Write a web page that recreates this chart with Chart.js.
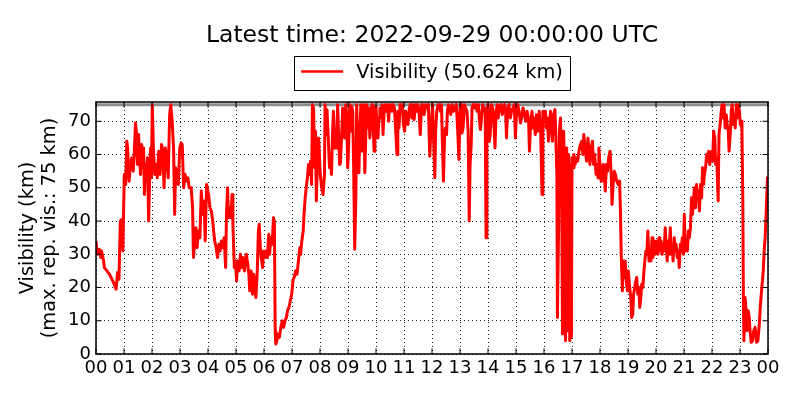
<!DOCTYPE html>
<html>
<head>
<meta charset="utf-8">
<script src="https://cdn.jsdelivr.net/npm/chart.js@4.4.1/dist/chart.umd.min.js"></script>
<style>
  html, body { margin: 0; padding: 0; background: #fff; }
  canvas { display: block; }
</style>
</head>
<body>
<canvas id="visChart" width="800" height="400"></canvas>
<script>
// Visibility readings, hours since 00 UTC in 4-hour blocks
const times00to04 = [
  0.00,0.05,0.12,0.17,0.20,0.27,0.30,0.39,0.48,0.57,
  0.65,0.72,0.77,0.82,0.87,0.92,0.96,1.01,1.06,1.10,
  1.13,1.18,1.23,1.28,1.33,1.37,1.41,1.45,1.48,1.52,
  1.55,1.59,1.63,1.66,1.70,1.73,1.77,1.81,1.84,1.88,
  1.92,1.95,1.98,2.01,2.05,2.10,2.14,2.19,2.24,2.29,
  2.34,2.39,2.43,2.48,2.53,2.58,2.63,2.67,2.72,2.77,
  2.81,2.84,2.89,2.94,2.99,3.04,3.08,3.13,3.18,3.23,
  3.28,3.33,3.40,3.45,3.48,3.52,3.57,3.61,3.66,3.71,
  3.76,3.81,3.86,3.90,3.95
];
const vis00to04 = [
  34,30,31.5,29,31,28,26,25,24,22.5,
  21,19.5,24.5,22.5,40,40.5,31,54,51,64,
  62,52,57,59,55,61,69.5,66,57,66,
  60,54,63,56,62,48,57,53,59,40,
  55,62,53,75,62,54,57,53,61,54,
  63,61,50,62,58,53,72,75,70,62,
  42,56,54,51,62,63.5,63,50,54,52,
  53,50,50,44,29,33,38,32,37,35,
  49,42,46,34,51
];

const times04to08 = [
  4.02,4.07,4.12,4.17,4.20,4.24,4.29,4.34,4.39,4.43,
  4.48,4.53,4.58,4.63,4.66,4.70,4.73,4.77,4.82,4.86,
  4.89,4.94,4.98,5.02,5.06,5.11,5.16,5.20,5.25,5.30,
  5.34,5.37,5.42,5.46,5.49,5.54,5.59,5.63,5.66,5.71,
  5.76,5.80,5.83,5.87,5.90,5.95,5.99,6.02,6.07,6.12,
  6.17,6.20,6.24,6.29,6.34,6.37,6.40,6.42,6.46,6.51,
  6.55,6.60,6.65,6.70,6.75,6.80,6.84,6.89,6.94,6.99,
  7.04,7.08,7.13,7.18,7.23,7.28,7.31,7.35,7.40,7.43,
  7.47,7.52,7.55,7.59,7.63,7.66,7.70,7.73,7.77,7.81,
  7.84,7.87,7.92,7.95
];
const vis04to08 = [
  48,44,43,40,37,34,32,29,33,31,
  34,32,35,26,42,50,41,44,41,48,
  39,26,28,22,28,25,30,26,29,25,
  28,30,27,24,19,25,18,24,21,17,
  25,37,39,32,29,26,31,29,31,29,
  36,30,35,33,41,40,7,3,4,6,
  5,8,10,8,10,11,13,14,16,18,
  22.5,23,25,24,28,32,30,34,37,42,
  47,51,53,57,54,58,51,75,74,56,
  67,46,61,65
];

const times08to12 = [
  8.01,8.06,8.11,8.16,8.18,8.22,8.25,8.30,8.34,8.37,
  8.41,8.45,8.48,8.52,8.55,8.59,8.63,8.66,8.70,8.73,
  8.77,8.81,8.84,8.88,8.92,8.95,8.99,9.02,9.06,9.10,
  9.13,9.17,9.20,9.24,9.28,9.31,9.35,9.39,9.42,9.46,
  9.49,9.53,9.57,9.60,9.64,9.67,9.71,9.75,9.78,9.82,
  9.86,9.89,9.93,9.96,10.00,10.04,10.07,10.11,10.14,10.18,
  10.22,10.25,10.29,10.33,10.37,10.41,10.45,10.48,10.52,10.57,
  10.61,10.66,10.71,10.75,10.78,10.82,10.86,10.90,10.94,10.98,
  11.02,11.06,11.11,11.14,11.19,11.23,11.28,11.31,11.36,11.41,
  11.45,11.48,11.53,11.58,11.63,11.67,11.72,11.77,11.82,11.87,
  11.92,11.96
];
const vis08to12 = [
  54,50,48,54,75,66,73.5,64,56,60,
  54,67,73,62,67,62,75,67,57,57.5,
  65,74,67,65,75,72,56,62,75,67,
  74.5,73,57,31.5,47,75,59,54.5,67,75,
  61,64,75,54.5,67,75,68,74,65,70,
  75,72,61,65,74.5,68,65,71,74,71.5,
  75,66,73,75,73,75,70,74.5,75,73,
  75,74,66,60,73,68,75,74,75,69,
  67,73,71,69,74,75,71,75,70.5,75,
  73,75,74,66,75,75,72,75,74,75,
  59.5,67
];

const times12to16 = [
  12.02,12.06,12.10,12.13,12.17,12.22,12.27,12.30,12.34,12.37,
  12.41,12.45,12.48,12.52,12.55,12.59,12.63,12.67,12.72,12.77,
  12.82,12.87,12.92,12.96,13.00,13.04,13.07,13.11,13.16,13.20,
  13.25,13.29,13.33,13.36,13.40,13.43,13.47,13.52,13.57,13.61,
  13.66,13.70,13.73,13.77,13.81,13.86,13.90,13.93,13.96,14.00,
  14.05,14.08,14.12,14.17,14.22,14.25,14.29,14.33,14.36,14.41,
  14.46,14.51,14.55,14.59,14.63,14.66,14.70,14.75,14.80,14.84,
  14.89,14.94,14.98,15.01,15.06,15.11,15.16,15.20,15.25,15.30,
  15.35,15.40,15.45,15.48,15.52,15.57,15.60,15.64,15.69,15.73,
  15.78,15.83,15.88,15.93
];
const vis12to16 = [
  75,64,53,67,73,75,75,73,75,64,
  52,66,68,66,73,75,73,72,75,73,
  74,75,67,58.5,74,75,66.5,68,75,74,
  73,67,40,57,63,74,75,74,75,73,
  75,70,67.5,71,75,73,74,35,67,75,
  64,66,75,74,68,62,73,75,71,74,
  75,72,74,75,73,65,74,75,71,73,
  74,75,65,71,75,73,69.5,71,74,72.5,
  70,73,70.5,61,69,73,68,71,66,72,
  67,73,67,48
];

const times16to20 = [
  15.96,16.01,16.05,16.08,16.12,16.16,16.19,16.23,16.27,16.30,
  16.34,16.39,16.42,16.46,16.48,16.52,16.55,16.59,16.63,16.66,
  16.70,16.73,16.77,16.81,16.84,16.88,16.92,16.95,16.98,17.00,
  17.04,17.07,17.11,17.16,17.20,17.25,17.30,17.35,17.39,17.42,
  17.47,17.52,17.57,17.60,17.64,17.69,17.73,17.77,17.81,17.86,
  17.89,17.93,17.96,18.00,18.04,18.07,18.12,18.16,18.19,18.23,
  18.27,18.31,18.36,18.40,18.43,18.47,18.51,18.55,18.60,18.65,
  18.70,18.73,18.76,18.80,18.83,18.87,18.90,18.94,18.98,19.01,
  19.06,19.10,19.13,19.17,19.20,19.24,19.28,19.31,19.35,19.39,
  19.42,19.46,19.49,19.53,19.57,19.60,19.64,19.67,19.71,19.75,
  19.78,19.82,19.86,19.89,19.93,19.96
];
const vis16to20 = [
  73,70,73,68,71,64,68,73,69,64,
  72,73.5,66,54,11,37,67,71,54,6,
  67,57,4,62,7,60,4,57,5,59,
  56,60,57,59,58,61,63,64,60,66,
  62,58,65,62,57,62,64,57,60,54,
  57,53,62,57,52,56,57,53,49,57,
  55,59,61,54,45,51,55,54,52,51,
  52,43,29,19,28,23,28,22,19,25,
  20,17,11,12,18,20,22,23,18,20,
  14,17,21,20,25,28,31,30,37,28,
  31,28,35,29,34,30
];

const times20to24 = [
  20.00,20.04,20.07,20.11,20.14,20.18,20.22,20.25,20.29,20.33,
  20.36,20.40,20.43,20.47,20.51,20.54,20.58,20.61,20.65,20.69,
  20.72,20.76,20.80,20.83,20.87,20.90,20.94,20.98,21.01,21.05,
  21.08,21.12,21.16,21.19,21.23,21.27,21.30,21.34,21.37,21.41,
  21.45,21.48,21.52,21.55,21.59,21.63,21.66,21.70,21.73,21.77,
  21.81,21.84,21.88,21.92,21.95,21.99,22.02,22.06,22.10,22.13,
  22.17,22.22,22.25,22.29,22.33,22.36,22.40,22.43,22.47,22.51,
  22.54,22.58,22.61,22.65,22.69,22.72,22.76,22.80,22.83,22.87,
  22.90,22.94,22.98,23.01,23.05,23.07,23.10,23.12,23.14,23.18,
  23.22,23.25,23.29,23.33,23.36,23.40,23.45,23.49,23.54,23.59,
  23.64,23.69,23.73,23.78,23.83,23.87,23.90,23.94,23.98,24.00
];
const vis20to24 = [
  31,34,30,35,31,34,30,33,31,38,
  33,28,34,30,38,30,32,28,35,31,
  33,29,31,26,33,31,35,30,42,31,
  34,31,37,35,38,47,42,46,50,44,
  51,46,49,43,51,47,56,51,54,56,
  60,58,61,57,60,61,58,67,65,57,
  59,46,66,69,73,75,71,75,68,72,
  69,67,61,66,73,75,69,72,68,75,
  71,75,73,69,70,67,47,17,4,17,
  13,7,13,11,7,3.5,4,7,8,3.5,
  4,9,15,20,25,32,35,44,53,50.624
];

const maxReportedVis = 75;
const hourLabels = ['00','01','02','03','04','05','06','07','08','09','10','11',
                    '12','13','14','15','16','17','18','19','20','21','22','23','00'];
const titleText = 'Latest time: 2022-09-29 00:00:00 UTC';
const yLabelLines = ['Visibility (km)', '(max. rep. vis.: ' + maxReportedVis + ' km)'];

const allTimes = [].concat(times00to04, times04to08, times08to12, times12to16, times16to20, times20to24);
const allVis = [].concat(vis00to04, vis04to08, vis08to12, vis12to16, vis16to20, vis20to24);
const latestVis = allVis[allVis.length - 1];

const FONT = '"DejaVu Sans", "Liberation Sans", sans-serif';

// background, inward ticks, frame, title and framed legend
const decorPlugin = {
  id: 'decor',
  beforeDraw(chart) {
    const ctx = chart.ctx;
    ctx.save();
    ctx.fillStyle = '#fff';
    ctx.fillRect(0, 0, chart.width, chart.height);
    ctx.restore();
  },
  afterDraw(chart) {
    const { ctx, chartArea: a, scales: { x, y } } = chart;
    ctx.save();

    // inward ticks on all four sides
    ctx.strokeStyle = '#000';
    ctx.lineWidth = 1;
    const tl = 5.5;
    ctx.beginPath();
    x.ticks.forEach(t => {
      const px = x.getPixelForValue(t.value);
      ctx.moveTo(px, a.bottom); ctx.lineTo(px, a.bottom - tl);
      ctx.moveTo(px, a.top); ctx.lineTo(px, a.top + tl);
    });
    y.ticks.forEach(t => {
      const py = y.getPixelForValue(t.value);
      ctx.moveTo(a.left, py); ctx.lineTo(a.left + tl, py);
      ctx.moveTo(a.right, py); ctx.lineTo(a.right - tl, py);
    });
    ctx.stroke();

    // frame
    ctx.lineWidth = 1.5;
    ctx.strokeRect(a.left, a.top, a.right - a.left, a.bottom - a.top);

    const cx = (a.left + a.right) / 2;

    // title
    ctx.fillStyle = '#000';
    ctx.font = '23.5px ' + FONT;
    ctx.textAlign = 'center';
    ctx.textBaseline = 'alphabetic';
    ctx.fillText(titleText, cx, 42);

    // legend
    const ds = chart.data.datasets[0];
    ctx.font = '19.4px ' + FONT;
    const textW = ctx.measureText(ds.label).width;
    const pad = 7, lineLen = 42, gap = 13;
    const boxW = pad + lineLen + gap + textW + pad;
    const boxL = cx - boxW / 2, boxT = 56, boxH = 34;
    ctx.lineWidth = 1;
    ctx.strokeStyle = '#000';
    ctx.strokeRect(Math.round(boxL) + 0.5, boxT + 0.5, Math.round(boxW), boxH);
    ctx.strokeStyle = ds.borderColor;
    ctx.lineWidth = 2.5;
    ctx.beginPath();
    ctx.moveTo(boxL + pad, boxT + 15.5);
    ctx.lineTo(boxL + pad + lineLen, boxT + 15.5);
    ctx.stroke();
    ctx.textAlign = 'left';
    ctx.textBaseline = 'middle';
    ctx.fillText(ds.label, boxL + pad + lineLen + gap, boxT + 17);

    ctx.restore();
  }
};

const ctx = document.getElementById('visChart').getContext('2d');
new Chart(ctx, {
  type: 'line',
  data: {
    datasets: [
      {
        label: 'Visibility (' + latestVis.toFixed(3) + ' km)',
        data: allTimes.map((t, i) => ({ x: t, y: allVis[i] })),
        borderColor: '#ff0000',
        borderWidth: 3,
        borderJoinStyle: 'round',
        pointRadius: 0,
        tension: 0,
        fill: false
      },
      {
        label: 'max reported',
        data: [{ x: 0, y: maxReportedVis }, { x: 24, y: maxReportedVis }],
        borderColor: '#8c8c8c',
        borderWidth: 3,
        pointRadius: 0,
        fill: false
      }
    ]
  },
  options: {
    responsive: false,
    animation: false,
    layout: { padding: { top: 102, right: 32, left: 0, bottom: 0 } },
    plugins: {
      legend: { display: false },
      title: { display: false },
      tooltip: { enabled: false }
    },
    scales: {
      x: {
        type: 'linear',
        min: 0,
        max: 24,
        afterFit: s => { s.height = 46; },
        grid: { color: 'rgba(0,0,0,0.85)', lineWidth: 1, drawTicks: false },
        border: { display: false, dash: [1, 3] },
        ticks: {
          stepSize: 1,
          autoSkip: false,
          maxRotation: 0,
          padding: 4,
          color: '#000',
          font: { family: FONT, size: 18 },
          callback: v => hourLabels[v]
        }
      },
      y: {
        min: 0,
        max: 75.8,
        afterFit: s => { s.width = 96; },
        grid: { color: 'rgba(0,0,0,0.85)', lineWidth: 1, drawTicks: false },
        border: { display: false, dash: [1, 3] },
        ticks: {
          stepSize: 10,
          includeBounds: false,
          padding: 5,
          color: '#000',
          font: { family: FONT, size: 18 }
        },
        title: {
          display: true,
          text: yLabelLines,
          color: '#000',
          font: { family: FONT, size: 19.4, lineHeight: 1.15 },
          padding: { top: 16.8, bottom: 0 }
        }
      }
    }
  },
  plugins: [decorPlugin]
});
</script>
</body>
</html>
